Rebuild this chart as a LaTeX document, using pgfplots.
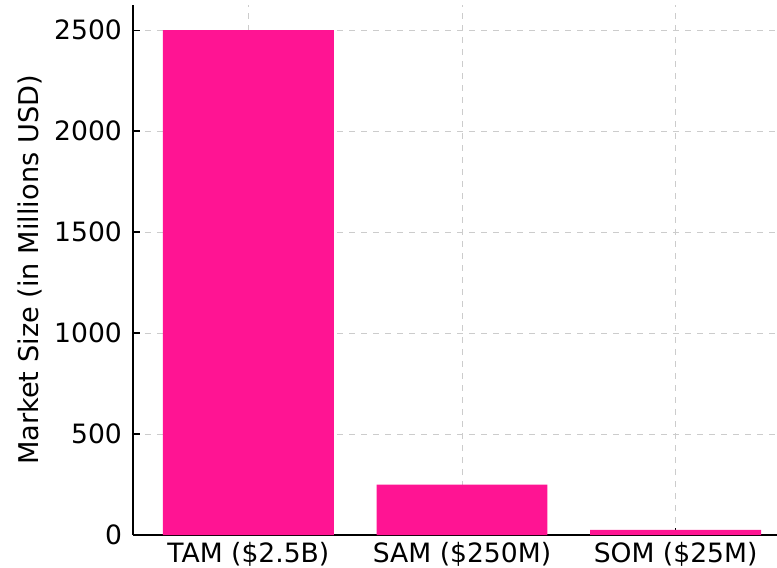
\documentclass[border=0pt]{standalone}
\usepackage{fontspec}
\setmainfont{DejaVu Sans}
\usepackage{pgfplots}
\pgfplotsset{compat=1.18}
\definecolor{barpink}{HTML}{FF1493}
\definecolor{gridgray}{HTML}{CCCCCC}
\begin{document}
\begin{tikzpicture}
% the reference is a crop of a larger figure
\useasboundingbox (0,0) rectangle (388.5pt,284pt);
\clip (0,0) rectangle (388.5pt,284pt);
\begin{pgfinterruptboundingbox}
\begin{axis}[
    at={(66.5pt,16.5pt)}, anchor=south west,
    scale only axis,
    width=329pt, height=265pt,
    axis x line*=bottom, axis y line*=left,
    axis line style={black, line width=0.7pt},
    xmin=-0.54, xmax=2.54,
    ymin=0, ymax=2625,
    xtick=data,
    xticklabels={TAM (\$2.5B), SAM (\$250M), SOM (\$25M)},
    ytick={0,500,1000,1500,2000,2500},
    tick style={black, line width=0.7pt},
    tick align=inside,
    major tick length=3.5pt,
    grid=major,
    major grid style={gridgray, dashed, line width=0.45pt},
    ylabel={Market Size (in Millions USD)},
    ticklabel style={font=\fontsize{13.3}{16}\selectfont},
    label style={font=\fontsize{13.6}{16.5}\selectfont},
    /pgf/number format/assume math mode=true,
    scaled y ticks=false,
    yticklabel style={/pgf/number format/1000 sep={}, xshift=-2pt},
    ylabel style={yshift=-1pt},
  ]
  \addplot[ybar, bar width=0.8, fill=barpink, draw=none] coordinates {
    (0,2500)
    (1,250)
    (2,25)
  };
\end{axis}
\end{pgfinterruptboundingbox}
\end{tikzpicture}
\end{document}
